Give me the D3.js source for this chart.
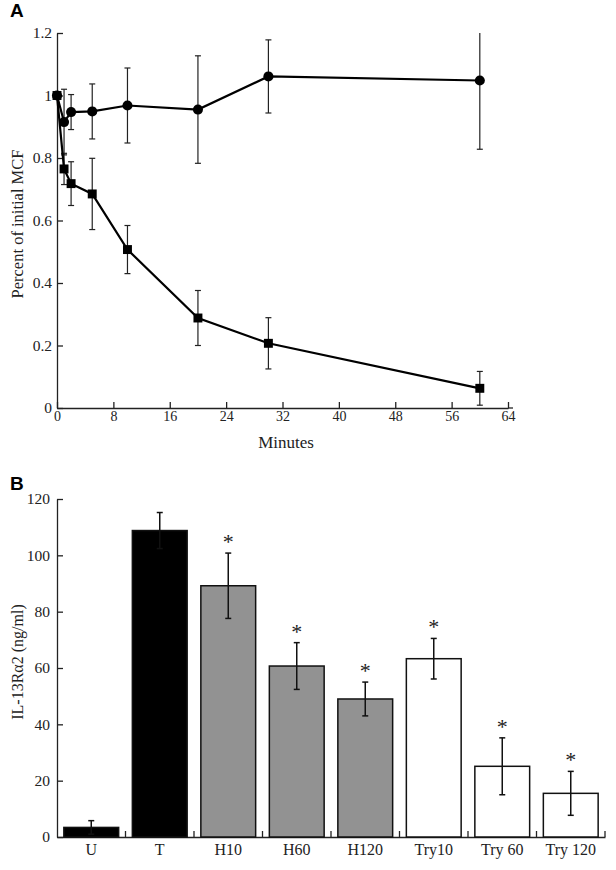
<!DOCTYPE html>
<meta charset="utf-8">
<style>
body { margin: 0; background: #fff; }
text { font-family: "Liberation Serif", "DejaVu Serif", serif; fill: #222; }
.panel { font: bold 19px "Liberation Sans", Arial, sans-serif; fill: #000; }
.axis path, .axis line { stroke: #222; stroke-width: 1.3; }
</style>
<body>
<script src="https://cdnjs.cloudflare.com/ajax/libs/d3/7.8.5/d3.min.js"></script>
<script>

// panel A: time course
var minutes = [0, 1, 2, 5, 10, 20, 30, 60];
var circleMean = [1.0, 0.915, 0.947, 0.949, 0.968, 0.955, 1.061, 1.048];
var circleErr  = [0, 0.105, 0.056, 0.088, 0.12, 0.172, 0.117, 0.22];
var squareMean = [1.0, 0.765, 0.718, 0.685, 0.507, 0.288, 0.207, 0.063];
var squareErr  = [0, 0.05, 0.07, 0.114, 0.077, 0.088, 0.082, 0.054];
var xTicksA = [0, 8, 16, 24, 32, 40, 48, 56, 64];
var yTicksA = [0, 0.2, 0.4, 0.6, 0.8, 1, 1.2];

// panel B: bars
var groups = ["U", "T", "H10", "H60", "H120", "Try10", "Try 60", "Try 120"];
var barMean = [3.4, 108.8, 89.2, 60.7, 49.0, 63.3, 25.1, 15.5];
var barErr  = [2.4, 6.4, 11.6, 8.3, 6.0, 7.2, 10.1, 7.8];
var barFill = ["#000", "#000", "#929292", "#929292", "#929292", "#fff", "#fff", "#fff"];
var starred = [false, false, true, true, true, true, true, true];
var yTicksB = [0, 20, 40, 60, 80, 100, 120];

var svg = d3.select("body").append("svg")
    .attr("width", 616)
    .attr("height", 870);

// ---------- A ----------
var x = d3.scaleLinear().domain([0, 64]).range([57, 508]);
var y = d3.scaleLinear().domain([0, 1.2]).range([408, 33]);

svg.append("text").attr("class", "panel").attr("x", 10).attr("y", 17).text("A");

var gA = svg.append("g");

gA.append("g").attr("class", "axis")
    .attr("transform", "translate(0,408)")
    .call(d3.axisBottom(x).tickValues(xTicksA).tickSizeInner(-6).tickSizeOuter(0).tickPadding(3))
    .call(g => g.selectAll("text").style("font-size", "14px").attr("font-family", null))
    .call(g => g.append("line").attr("x1", 508).attr("x2", 513).attr("stroke", "#222"));

gA.append("g").attr("class", "axis")
    .attr("transform", "translate(57,0)")
    .call(d3.axisLeft(y).tickValues(yTicksA).tickFormat(d3.format("")).tickSizeInner(-6).tickSizeOuter(0).tickPadding(5))
    .call(g => g.selectAll("text").style("font-size", "15.5px").attr("font-family", null));

svg.append("text")
    .attr("transform", "translate(23,224) rotate(-90)")
    .attr("text-anchor", "middle")
    .style("font-size", "16.5px")
    .text("Percent of initial MCF");

svg.append("text")
    .attr("x", 286).attr("y", 448)
    .attr("text-anchor", "middle")
    .style("font-size", "17px")
    .text("Minutes");

function series(mean, err, shape) {
  var pts = minutes.map((m, i) => ({ m: m, v: mean[i], e: err[i] }));
  var g = gA.append("g");
  pts.filter(d => d.e > 0).forEach(function(d) {
    var top = Math.min(d.v + d.e, 1.2);
    g.append("line")
        .attr("x1", x(d.m)).attr("x2", x(d.m))
        .attr("y1", y(top)).attr("y2", y(d.v - d.e))
        .attr("stroke", "#222").attr("stroke-width", 1.2);
    [d.v - d.e, d.v + d.e].forEach(function(c) {
      if (c > 1.2) return;
      g.append("line")
          .attr("x1", x(d.m) - 3).attr("x2", x(d.m) + 3)
          .attr("y1", y(c)).attr("y2", y(c))
          .attr("stroke", "#222").attr("stroke-width", 1.2);
    });
  });
  g.append("path")
      .datum(pts)
      .attr("fill", "none")
      .attr("stroke", "#000")
      .attr("stroke-width", 2.2)
      .attr("d", d3.line().x(d => x(d.m)).y(d => y(d.v)));
  g.selectAll(".pt").data(pts).enter().append("path")
      .attr("transform", d => "translate(" + x(d.m) + "," + y(d.v) + ")")
      .attr("d", d3.symbol().type(shape).size(shape === d3.symbolSquare ? 80 : 80))
      .attr("fill", "#000");
}
series(circleMean, circleErr, d3.symbolCircle);
series(squareMean, squareErr, d3.symbolSquare);

// ---------- B ----------
var xb = d3.scaleBand().domain(groups).range([57, 605]).paddingInner(0.2).paddingOuter(0.1);
var yb = d3.scaleLinear().domain([0, 120]).range([837, 499]);

svg.append("text").attr("class", "panel").attr("x", 10).attr("y", 490).text("B");

var gB = svg.append("g");

gB.append("g").attr("class", "axis")
    .attr("transform", "translate(57,0)")
    .call(d3.axisLeft(yb).tickValues(yTicksB).tickSizeInner(-6).tickSizeOuter(0).tickPadding(7))
    .call(g => g.selectAll("text").style("font-size", "15.5px").attr("font-family", null));

var xAxisB = gB.append("g").attr("class", "axis")
    .attr("transform", "translate(0,837)")
    .call(d3.axisBottom(xb).tickSize(0).tickPadding(7))
    .call(g => g.selectAll("text").style("font-size", "16px").attr("font-family", null));

// ticks between bars
xAxisB.selectAll(".sep").data(groups).enter().append("line")
    .attr("x1", d => xb(d) + xb.bandwidth() + xb.step() * 0.1)
    .attr("x2", d => xb(d) + xb.bandwidth() + xb.step() * 0.1)
    .attr("y1", 0).attr("y2", -6);

var bars = gB.selectAll(".bar").data(groups).enter().append("g");

bars.append("rect")
    .attr("x", d => xb(d))
    .attr("width", xb.bandwidth())
    .attr("y", (d, i) => yb(barMean[i]))
    .attr("height", (d, i) => yb(0) - yb(barMean[i]))
    .attr("fill", (d, i) => barFill[i])
    .attr("stroke", "#111")
    .attr("stroke-width", 1.5);

bars.each(function(d, i) {
  var g = d3.select(this), cx = xb(d) + xb.bandwidth() / 2;
  var lo = Math.max(barMean[i] - barErr[i], 0), hi = barMean[i] + barErr[i];
  g.append("line").attr("x1", cx).attr("x2", cx)
      .attr("y1", yb(lo)).attr("y2", yb(hi))
      .attr("stroke", "#111").attr("stroke-width", 1.5);
  [lo, hi].forEach(function(c) {
    g.append("line").attr("x1", cx - 3).attr("x2", cx + 3)
        .attr("y1", yb(c)).attr("y2", yb(c))
        .attr("stroke", "#111").attr("stroke-width", 1.5);
  });
  if (starred[i]) {
    g.append("text")
        .attr("x", cx).attr("y", yb(hi) - 4)
        .attr("text-anchor", "middle")
        .style("font-size", "22px")
        .text("*");
  }
});

svg.append("text")
    .attr("transform", "translate(23,662) rotate(-90)")
    .attr("text-anchor", "middle")
    .style("font-size", "16px")
    .text("IL-13Rα2 (ng/ml)");

</script>
</body>
